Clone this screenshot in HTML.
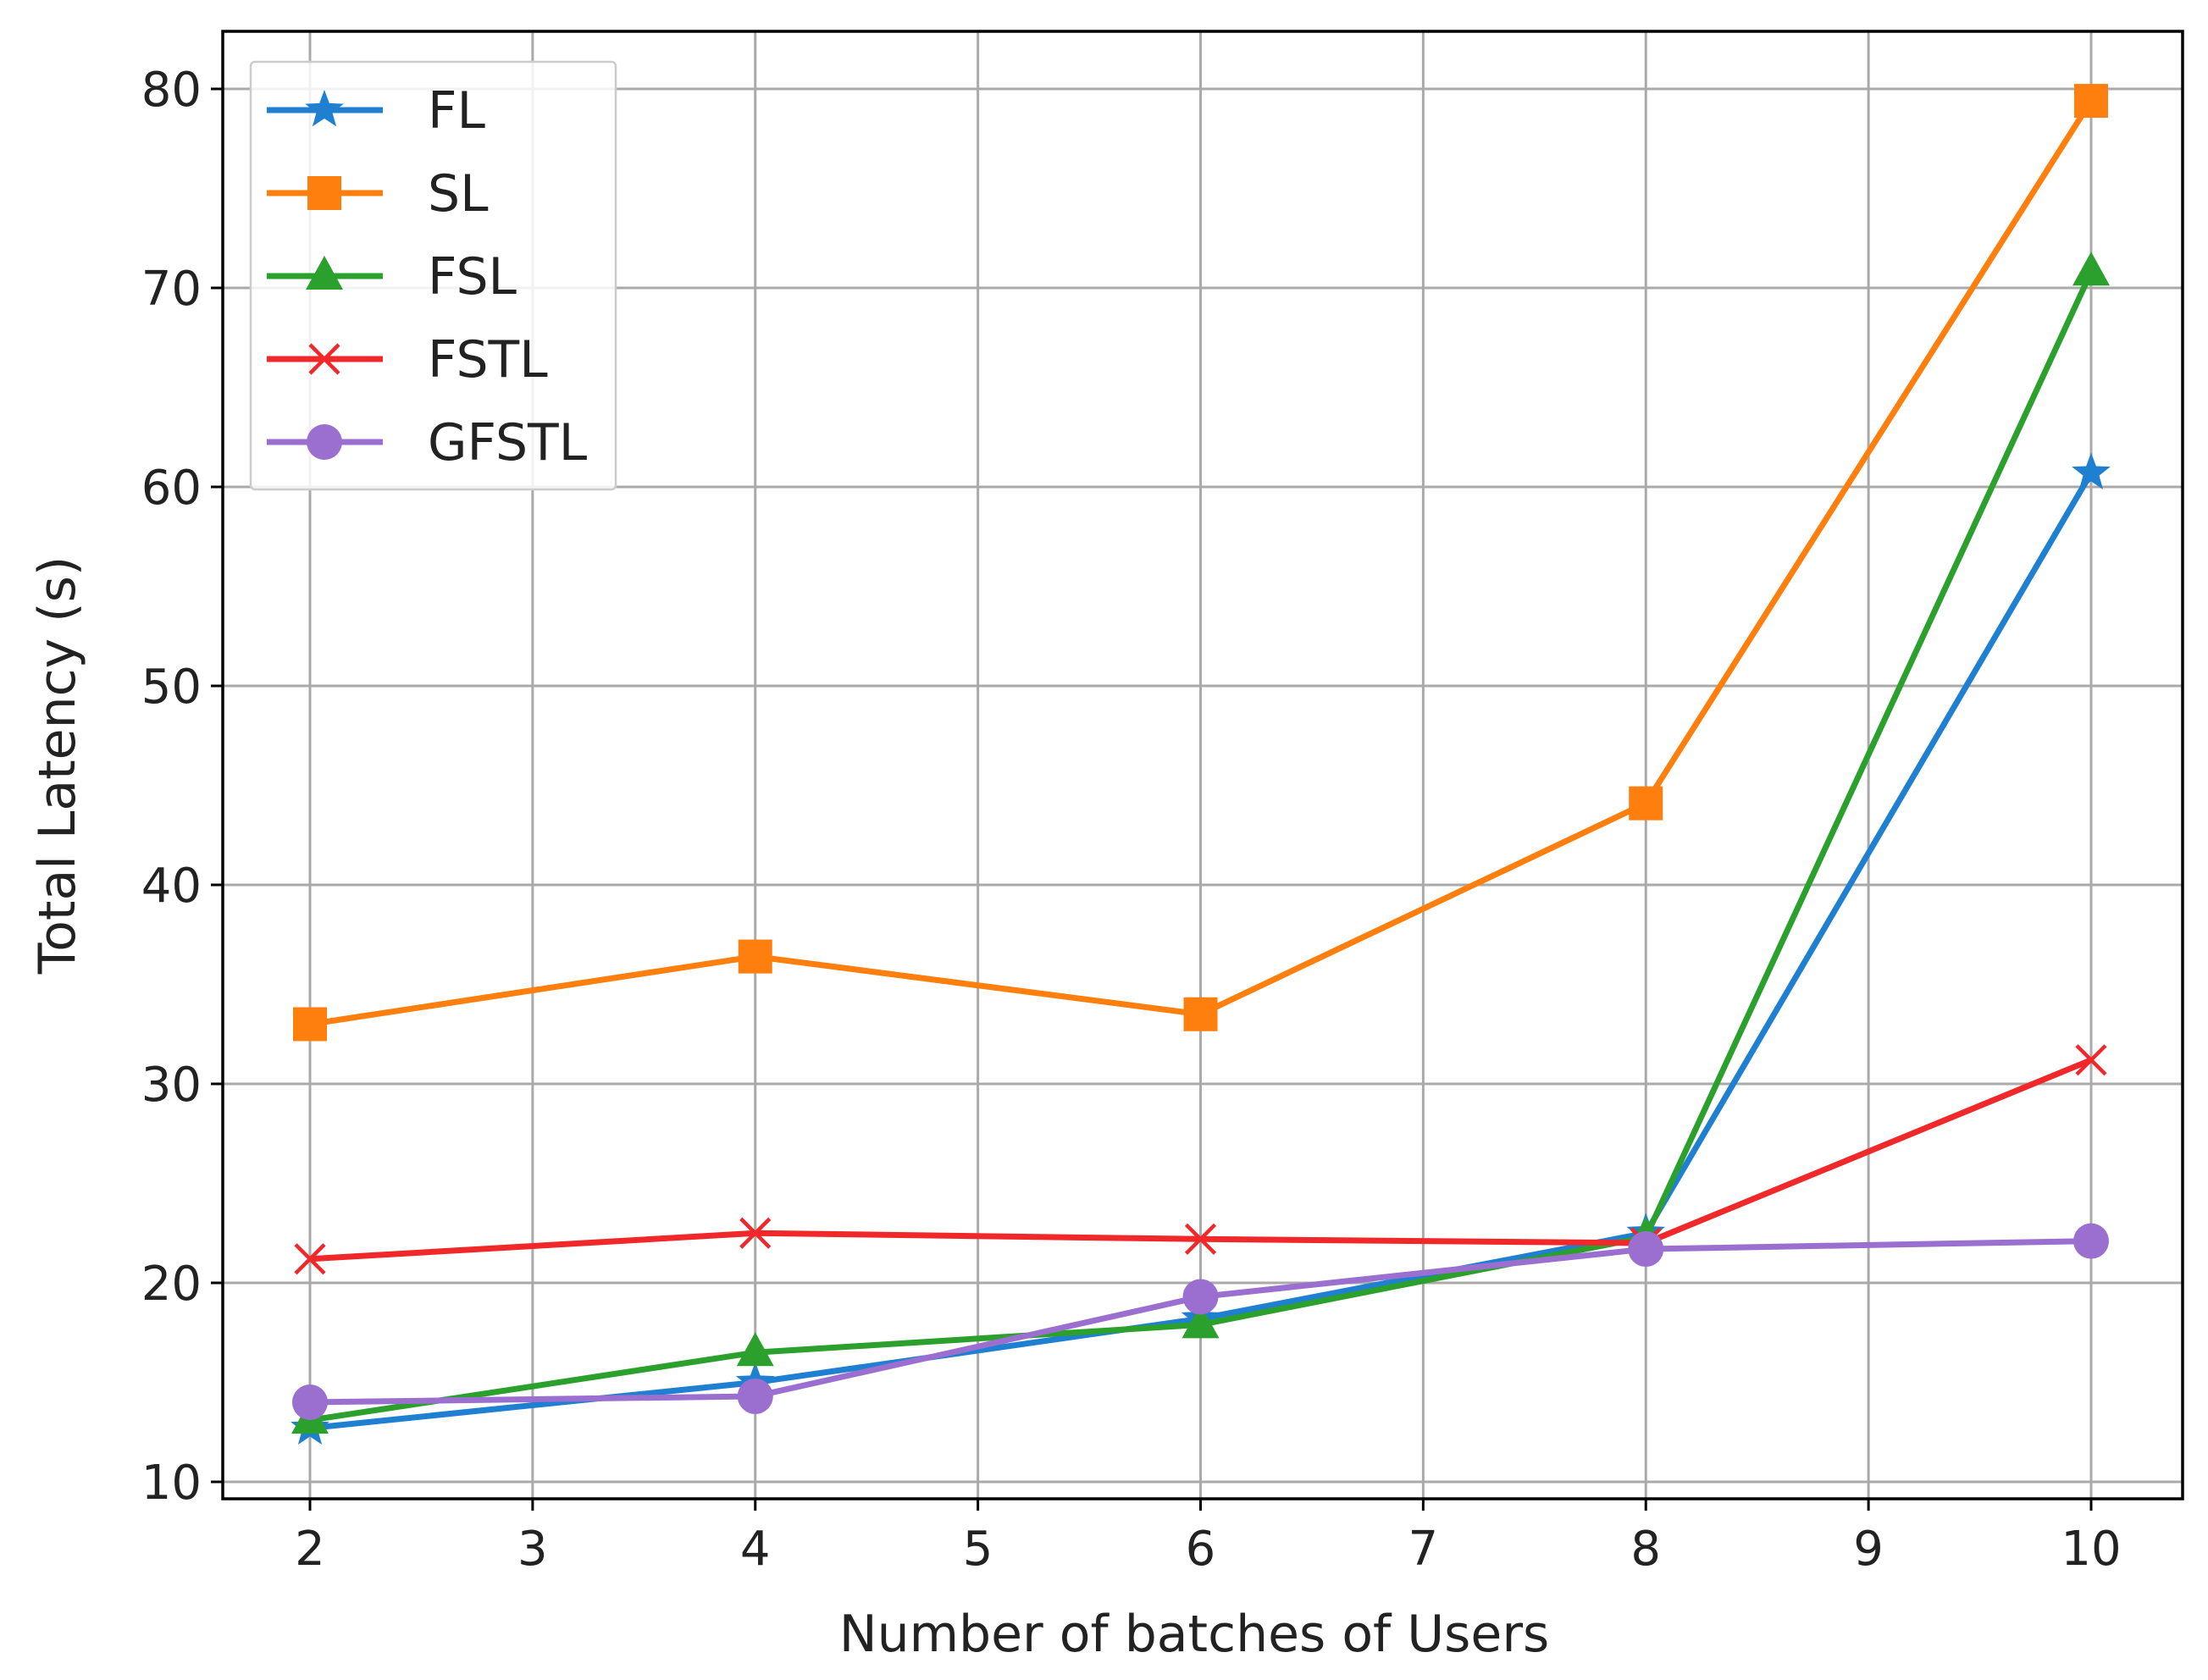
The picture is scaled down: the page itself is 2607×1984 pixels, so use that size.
<!DOCTYPE html>
<html><head><meta charset="utf-8"><style>
html,body{margin:0;padding:0;background:#fff}
svg{display:block;font-family:"DejaVu Sans","Liberation Sans",sans-serif}
</style></head><body>
<svg id="chart" width="2607" height="1984" viewBox="0 0 2607 1984"></svg>
<script>
const categories = [2, 4, 6, 8, 10];
const flValues = [12.7, 15.0, 18.2, 22.5, 60.7];
const slValues = [33.0, 36.4, 33.5, 44.1, 79.4];
const fslValues = [13.1, 16.5, 17.9, 22.3, 70.8];
const fstlValues = [21.2, 22.5, 22.2, 22.0, 31.2];
const gfstlValues = [14.0, 14.3, 19.3, 21.7, 22.1];
const xTicks = [2, 3, 4, 5, 6, 7, 8, 9, 10];
const yTicks = [10, 20, 30, 40, 50, 60, 70, 80];
const seriesNames = ["FL", "SL", "FSL", "FSTL", "GFSTL"];

const NS = "http://www.w3.org/2000/svg";
const svg = document.getElementById("chart");
const L = 263, R = 2577, T = 37, B = 1770;
function xs(v){ return 366 + (v - 2) * (2469 - 366) / 8; }
function ys(v){ return 1750 - (v - 10) * (1750 - 105) / 70; }
function mk(tag, attrs, parent){
  const e = document.createElementNS(NS, tag);
  for (const k in attrs) e.setAttribute(k, attrs[k]);
  (parent || svg).appendChild(e);
  return e;
}
const grid = mk("g", {});


xTicks.forEach(t => mk("line", {x1: xs(t), x2: xs(t), y1: T, y2: B, stroke: "#aaaaaa", "stroke-width": 3}, grid));
yTicks.forEach(t => mk("line", {x1: L, x2: R, y1: ys(t), y2: ys(t), stroke: "#aaaaaa", "stroke-width": 3}, grid));
const frame = mk("rect", {x: L, y: T, width: R - L, height: B - T, fill: "none", stroke: "#000", "stroke-width": 3.5});


xTicks.forEach(t => {
  mk("line", {x1: xs(t), x2: xs(t), y1: B, y2: B + 14, stroke: "#000", "stroke-width": 3});
  const tx = mk("text", {x: xs(t), y: B + 78, "font-size": 56, "text-anchor": "middle", fill: "#222"});
  tx.textContent = t;
  
  
});
yTicks.forEach(t => {
  mk("line", {x1: L - 14, x2: L, y1: ys(t), y2: ys(t), stroke: "#000", "stroke-width": 3});
  const tx = mk("text", {x: L - 25, y: ys(t) + 20, "font-size": 56, "text-anchor": "end", fill: "#222"});
  tx.textContent = t;
  
  
});
const xt = mk("text", {x: (L + R) / 2 - 10, y: 1950, "font-size": 60, "text-anchor": "middle", fill: "#222"});
xt.textContent = "Number of batches of Users";


const yt = mk("text", {x: 0, y: 0, "font-size": 60, "text-anchor": "middle", fill: "#222", transform: "translate(88," + ((T + B) / 2) + ") rotate(-90)"});
yt.textContent = "Total Latency (s)";



function marker(type, x, y, color, g){
  if (type === "star"){
    const pts = [];
    for (let i = 0; i < 10; i++){
      const r = i % 2 ? 10 : 24, a = -Math.PI / 2 + i * Math.PI / 5;
      pts.push((x + r * Math.cos(a)) + "," + (y + r * Math.sin(a)));
    }
    mk("polygon", {points: pts.join(" "), fill: color}, g);
  } else if (type === "square"){
    mk("rect", {x: x - 20, y: y - 20, width: 40, height: 40, fill: color}, g);
  } else if (type === "tri"){
    mk("polygon", {points: `${x},${y-24} ${x+22},${y+16} ${x-22},${y+16}`, fill: color}, g);
  } else if (type === "x"){
    mk("path", {d: `M${x-17},${y-17}L${x+17},${y+17}M${x-17},${y+17}L${x+17},${y-17}`, stroke: color, "stroke-width": 4.5}, g);
  } else {
    mk("circle", {cx: x, cy: y, r: 21, fill: color}, g);
  }
}
const allSeries = [flValues, slValues, fslValues, fstlValues, gfstlValues];
const colors = ["#1f7fd0", "#ff7f0e", "#2ca02c", "#f0282a", "#9b6fd0"];
const markers = ["star", "square", "tri", "x", "circle"];
allSeries.forEach((vals, si) => {
  const g = mk("g", {});
  
  
  const d = vals.map((v, i) => (i ? "L" : "M") + xs(categories[i]) + "," + ys(v)).join("");
  mk("path", {d: d, fill: "none", stroke: colors[si], "stroke-width": 7}, g);
  vals.forEach((v, i) => marker(markers[si], xs(categories[i]), ys(v), colors[si], g));
});
const lg = mk("g", {});


mk("rect", {x: 296, y: 73, width: 431, height: 505, fill: "#fff", "fill-opacity": 0.85, stroke: "#ccc", "stroke-width": 2.5, rx: 5}, lg);
seriesNames.forEach((n, i) => {
  const y = 130 + i * 98;
  const e = mk("g", {}, lg);
  
  
  mk("line", {x1: 315, x2: 452, y1: y, y2: y, stroke: colors[i], "stroke-width": 7}, e);
  marker(markers[i], 383, y, colors[i], e);
  const t = mk("text", {x: 505, y: y + 21, "font-size": 60, fill: "#222"}, e);
  t.textContent = n;
});
</script>
</body></html>
